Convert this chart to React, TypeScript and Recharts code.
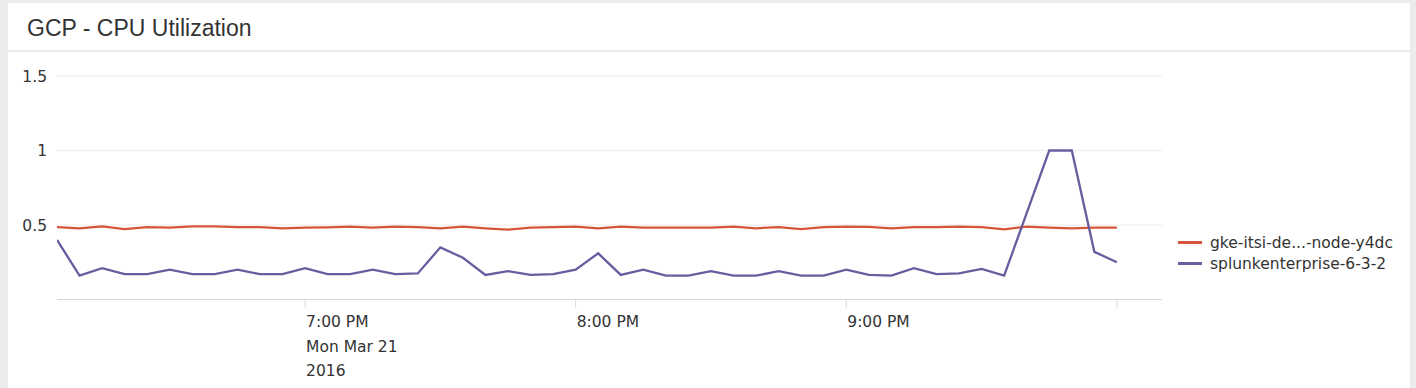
import { CartesianGrid, Legend, Line, LineChart, XAxis, YAxis } from "recharts"

const times = [
  "18:05", "18:10", "18:15", "18:20", "18:25", "18:30", "18:35", "18:40",
  "18:45", "18:50", "18:55", "19:00", "19:05", "19:10", "19:15", "19:20",
  "19:25", "19:30", "19:35", "19:40", "19:45", "19:50", "19:55", "20:00",
  "20:05", "20:10", "20:15", "20:20", "20:25", "20:30", "20:35", "20:40",
  "20:45", "20:50", "20:55", "21:00", "21:05", "21:10", "21:15", "21:20",
  "21:25", "21:30", "21:35", "21:40", "21:45", "21:50", "21:55", "22:00",
]

const gkeNode = [
  0.486, 0.478, 0.491, 0.473, 0.486, 0.482, 0.491, 0.491,
  0.486, 0.486, 0.478, 0.482, 0.484, 0.489, 0.482, 0.489,
  0.486, 0.478, 0.489, 0.478, 0.469, 0.482, 0.486, 0.489,
  0.477, 0.489, 0.482, 0.482, 0.482, 0.482, 0.489, 0.478,
  0.486, 0.473, 0.486, 0.489, 0.487, 0.478, 0.486, 0.486,
  0.489, 0.486, 0.471, 0.489, 0.482, 0.478, 0.482, 0.482,
]

const splunkEnterprise = [
  0.4, 0.16, 0.21, 0.17, 0.17, 0.2, 0.17, 0.17,
  0.2, 0.17, 0.17, 0.21, 0.17, 0.17, 0.2, 0.17,
  0.175, 0.35, 0.28, 0.165, 0.19, 0.165, 0.17, 0.2,
  0.31, 0.165, 0.2, 0.16, 0.16, 0.19, 0.16, 0.16,
  0.19, 0.16, 0.16, 0.2, 0.165, 0.16, 0.21, 0.17,
  0.175, 0.205, 0.16, 0.58, 1.0, 1.0, 0.32, 0.25,
]

const seriesNames = ["gke-itsi-de...-node-y4dc", "splunkenterprise-6-3-2"]
const seriesColors = ["#d6563c", "#6a5c9e"]

const xTicks = ["19:00", "20:00", "21:00", "22:00"]
const xTickLabels = [["7:00 PM", "Mon Mar 21", "2016"], ["8:00 PM"], ["9:00 PM"], []]
const yTicks = [0.5, 1, 1.5]

// minutes since 18:00
const toMin = (s: string) => {
  const [h, m] = s.split(":").map(Number)
  return (h - 18) * 60 + m
}

const data = times.map((t, i) => ({
  t: toMin(t),
  gke: gkeNode[i],
  splunk: splunkEnterprise[i],
}))

const FONT = "'DejaVu Sans', sans-serif"
const FS = 15.5

function TimeTick({ x, y, payload }: any) {
  const idx = xTicks.findIndex((t) => toMin(t) === payload.value)
  const lines = idx >= 0 ? xTickLabels[idx] : []
  return (
    <g transform={`translate(${x},${y})`}>
      {lines.map((l, i) => (
        <text
          key={i}
          x={1}
          y={17.6 + i * 24.5}
          textAnchor="start"
          fill="#333"
          fontSize={FS}
          fontFamily={FONT}
        >
          {l}
        </text>
      ))}
    </g>
  )
}

function LegendBox() {
  return (
    <div style={{ fontFamily: FONT, fontSize: FS, color: "#333" }}>
      {seriesNames.map((n, i) => (
        <div key={n} style={{ display: "flex", alignItems: "center", height: 21 }}>
          <span
            style={{
              width: 24,
              height: 3,
              background: seriesColors[i],
              marginRight: 8,
              display: "inline-block",
            }}
          />
          <span>{n}</span>
        </div>
      ))}
    </div>
  )
}

export default function App() {
  return (
    <div style={{ position: "relative", width: 1416, height: 388, background: "#ececec", overflow: "hidden" }}>
      <style>{"body{margin:0}"}</style>
      <div style={{ position: "absolute", left: 8, top: 3, width: 1402, height: 385, background: "#fff" }} />
      <div
        style={{
          position: "absolute",
          left: 27,
          top: 17,
          fontFamily: "'Liberation Sans', Arial, sans-serif",
          fontSize: 23,
          lineHeight: "23px",
          color: "#333",
          whiteSpace: "nowrap",
        }}
      >
        GCP - CPU Utilization
      </div>
      <div style={{ position: "absolute", left: 8, top: 50, width: 1402, height: 2, background: "#ebebeb" }} />
      <div style={{ position: "absolute", left: 8, top: 52 }}>
        <LineChart
          width={1402}
          height={336}
          data={data}
          margin={{ top: 24, right: 248, bottom: 28.5, left: 0 }}
        >
          <CartesianGrid vertical={false} stroke="#ececec" />
          <XAxis
            dataKey="t"
            type="number"
            domain={[5, 250]}
            ticks={xTicks.map(toMin)}
            allowDataOverflow
            height={60}
            tickSize={8}
            tickMargin={2}
            stroke="#d9d9d9"
            tick={<TimeTick />}
            interval={0}
          />
          <YAxis
            domain={[0, 1.5]}
            ticks={yTicks}
            width={49}
            axisLine={false}
            tickLine={false}
            tickMargin={4}
            tick={{ fill: "#333", fontSize: FS, fontFamily: FONT }}
            interval={0}
          />
          <Line
            dataKey="gke"
            name={seriesNames[0]}
            stroke={seriesColors[0]}
            strokeWidth={2.3}
            dot={false}
            type="linear"
            isAnimationActive={false}
          />
          <Line
            dataKey="splunk"
            name={seriesNames[1]}
            stroke={seriesColors[1]}
            strokeWidth={2.3}
            dot={false}
            type="linear"
            isAnimationActive={false}
          />
          <Legend
            layout="vertical"
            align="center"
            verticalAlign="middle"
            content={<LegendBox />}
            wrapperStyle={{ position: "absolute", left: 1170, top: 180, width: 230 }}
          />
        </LineChart>
      </div>
    </div>
  )
}
